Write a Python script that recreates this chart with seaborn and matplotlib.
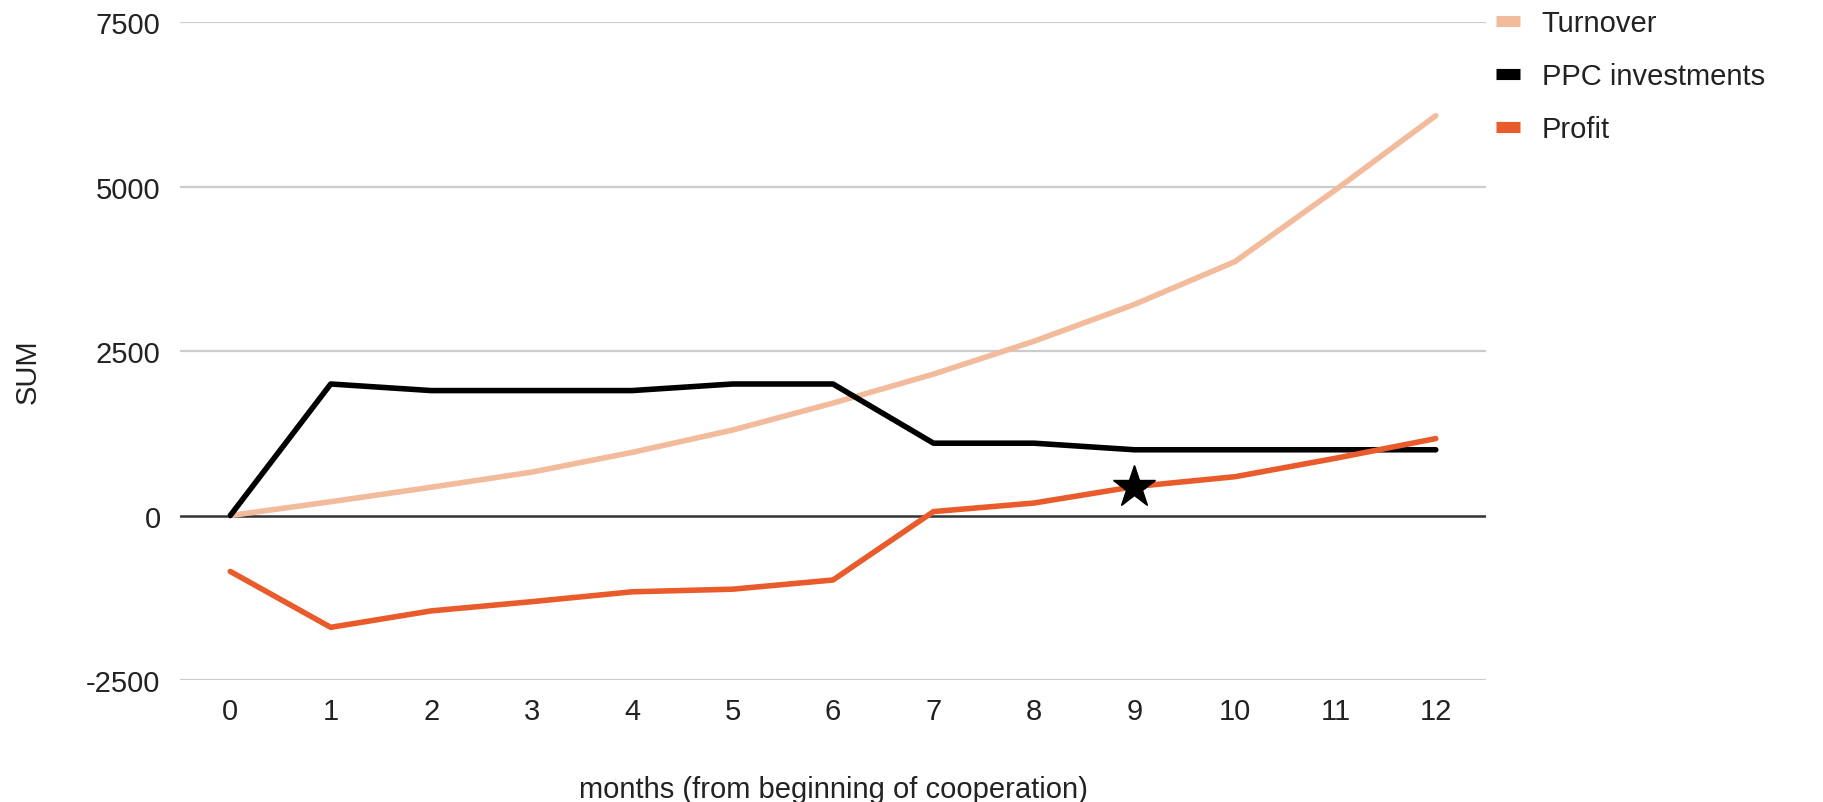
"""
Turnover / PPC investments / Profit per month — line chart.
"""

import pandas as pd
import numpy as np
import matplotlib.pyplot as plt
import seaborn as sns
from matplotlib.lines import Line2D

# ─── DATA ─────────────────────────────────────────────────────────────────────
months = list(range(13))
turnover = [0, 210, 430, 660, 960, 1300, 1710, 2150, 2650, 3210, 3860, 4950, 6080]
ppc_investments = [0, 2000, 1900, 1900, 1900, 2000, 2000, 1100, 1100, 1000, 1000, 1000, 1000]
profit = [-850, -1700, -1450, -1310, -1160, -1120, -980, 60, 190, 440, 590, 870, 1170]

series_names = ["Turnover", "PPC investments", "Profit"]
series_colors = ["#F2BB9C", "#000000", "#E95B2A"]
star_month = 9

y_ticks = [-2500, 0, 2500, 5000, 7500]

# ─── TABLE ────────────────────────────────────────────────────────────────────
df = pd.DataFrame({
    "month": months * 3,
    "value": turnover + ppc_investments + profit,
    "series": sum([[n] * len(months) for n in series_names], []),
})

# ─── PLOT ─────────────────────────────────────────────────────────────────────
sns.set_style("white")
plt.rcParams["font.family"] = ["Liberation Sans", "DejaVu Sans"]
plt.rcParams["axes.unicode_minus"] = False

FS = 21
TXT = "#222222"

fig = plt.figure(figsize=(18.24, 8.03), dpi=100)
ax = fig.add_axes([0.0987, 0.152, 0.716, 0.819])

# grid + baseline
for t in y_ticks:
    if t == 0:
        continue
    ax.axhline(t, color="#cccccc", lw=1.6, zorder=0)
ax.axhline(0, color="#333333", lw=1.8, zorder=1)

sns.lineplot(data=df, x="month", y="value", hue="series",
             hue_order=series_names, palette=series_colors,
             linewidth=4.0, legend=False, ax=ax, zorder=3)

# star on profit line
ax.plot(star_month, profit[star_month], marker="*", ms=32,
        color="black", zorder=5, linestyle="none")

ax.set_xlim(-0.5, 12.5)
ax.set_ylim(-2500, 7500)
ax.set_xticks(months)
ax.set_yticks(y_ticks)
ax.tick_params(axis="both", length=0, labelsize=FS, colors=TXT)
ax.tick_params(axis="x", pad=12)
ax.tick_params(axis="y", pad=14)
for s in ax.spines.values():
    s.set_visible(False)

ax.set_xlabel("months (from beginning of cooperation)", fontsize=FS,
              color=TXT, labelpad=36)
ax.set_ylabel("SUM", fontsize=FS, color=TXT)
ax.yaxis.set_label_coords(-0.106, 0.47)

handles = [Line2D([0], [0], color=c, lw=8, solid_capstyle="butt")
           for c in series_colors]
fig.legend(handles, series_names, loc="upper left",
           bbox_to_anchor=(0.806, 1.02), frameon=False, fontsize=FS,
           handlelength=0.8, handletextpad=0.75, labelspacing=0.85,
           labelcolor=TXT)

plt.savefig("out.png", dpi=100)
plt.close()
